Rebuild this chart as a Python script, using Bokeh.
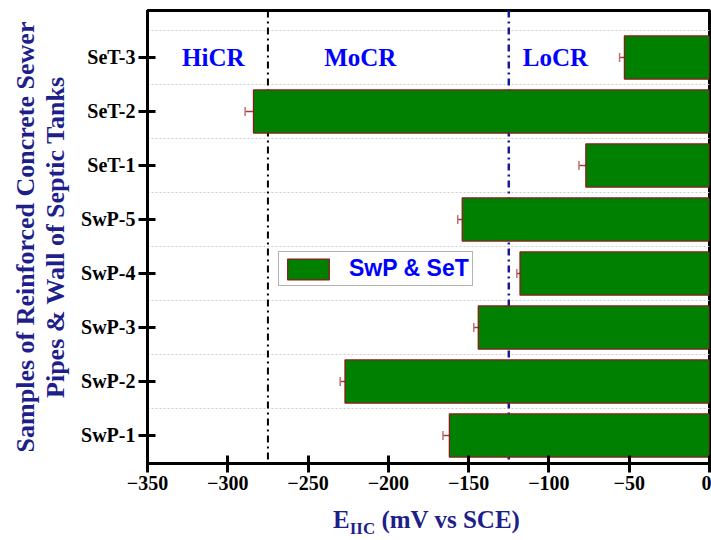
from bokeh.plotting import figure
from bokeh.models import (ColumnDataSource, FixedTicker, Span, Label, Whisker,
                          TeeHead, Legend, LegendItem, Range1d, Div)
from bokeh.layouts import column
from bokeh.embed import file_html
from bokeh.resources import INLINE

# ---------------- data ----------------
samples = ["SwP-1", "SwP-2", "SwP-3", "SwP-4", "SwP-5", "SeT-1", "SeT-2", "SeT-3"]
eiic = [-162, -227, -144, -118, -154, -77, -284, -53]
err = [4, 3, 2.8, 2, 2.8, 4.3, 5.2, 3]
x_ticks = [-350, -300, -250, -200, -150, -100, -50, 0]
x_tick_labels = ["\u2212350", "\u2212300", "\u2212250", "\u2212200", "\u2212150", "\u2212100", "\u221250", "0"]
thresholds = [-275, -125]
regions = ["HiCR", "MoCR", "LoCR"]
region_x = [-309, -217.5, -96]

ypos = list(range(len(samples)))
SERIF = "Liberation Serif"
NAVY = "#1f1f8c"

src = ColumnDataSource(dict(
    y=ypos, v=eiic, zero=[0] * len(eiic),
    lo=[a - b for a, b in zip(eiic, err)],
    hi=[a + b for a, b in zip(eiic, err)],
))

p = figure(width=711, height=500, output_backend="svg", toolbar_location=None,
           x_range=Range1d(-350, 0), y_range=Range1d(-0.5185, 7.87),
           min_border_left=147, min_border_right=2, min_border_top=10,
           min_border_bottom=37)
p.background_fill_color = "white"
p.border_fill_color = "white"
p.outline_line_color = "black"
p.outline_line_width = 3

# grid
p.xgrid.visible = False
p.ygrid.ticker = FixedTicker(ticks=[i + 0.5 for i in ypos])
p.ygrid.grid_line_color = "#cccccc"
p.ygrid.grid_line_dash = "2 2"
p.ygrid.grid_line_width = 1

# threshold lines (behind bars)
p.add_layout(Span(location=thresholds[0], dimension="height", line_color="black",
                  line_width=2, line_dash="7 4 2 4", level="underlay"))
p.add_layout(Span(location=thresholds[1], dimension="height", line_color="#1a1a99",
                  line_width=2.5, line_dash="7 4 2 4", level="underlay"))

bars = p.hbar(y="y", left="v", right="zero", height=0.8, source=src,
              fill_color="#008000", line_color="#8b1a1a", line_width=1.3)

p.add_layout(Whisker(source=src, base="y", lower="lo", upper="hi", dimension="width",
                     line_color="#a83a3a", line_width=1.3,
                     upper_head=TeeHead(size=9, line_color="#a83a3a", line_width=1.5),
                     lower_head=TeeHead(size=9, line_color="#c07070", line_width=1.5)))

# region labels
for name, rx in zip(regions, region_x):
    p.add_layout(Label(x=rx, y=7.0, text=name, text_align="center", text_baseline="middle",
                       text_font=SERIF, text_font_style="bold", text_font_size="25px",
                       text_color="#0000ff"))

# axes
p.xaxis.ticker = FixedTicker(ticks=x_ticks)
p.xaxis.major_label_overrides = {t: l for t, l in zip(x_ticks, x_tick_labels)}
p.yaxis.ticker = FixedTicker(ticks=ypos)
p.yaxis.major_label_overrides = {i: s for i, s in zip(ypos, samples)}
for ax in (p.xaxis[0], p.yaxis[0]):
    ax.axis_line_width = 3
    ax.axis_line_color = "black"
    ax.major_tick_line_width = 3
    ax.major_tick_line_color = "black"
    ax.major_tick_in = 8
    ax.major_tick_out = 9
    ax.minor_tick_line_color = None
    ax.major_label_text_font = SERIF
    ax.major_label_text_font_style = "bold"
    ax.major_label_text_font_size = "20px"
    ax.major_label_text_color = "black"
    ax.major_label_standoff = 3
    ax.axis_label_text_font = SERIF
    ax.axis_label_text_font_style = "bold"
    ax.axis_label_text_color = NAVY

p.yaxis.axis_label = "Samples of Reinforced Concrete Sewer\nPipes & Wall of Septic Tanks"
p.yaxis.axis_label_text_font_size = "26px"
p.yaxis.axis_label_text_line_height = 1.02
p.yaxis.axis_label_standoff = 8

# legend
legend = Legend(items=[LegendItem(label="SwP & SeT", renderers=[bars])],
                location=(131, 177), orientation="vertical")
legend.label_text_font = "Liberation Sans"
legend.label_text_font_style = "bold"
legend.label_text_font_size = "23px"
legend.label_text_color = "#0000ff"
legend.glyph_width = 52
legend.glyph_height = 26
legend.label_height = 26
legend.label_standoff = 15
legend.padding = 3
legend.margin = 0
legend.spacing = 0
legend.border_line_color = "#666666"
legend.border_line_width = 1.3
legend.background_fill_alpha = 1
p.add_layout(legend, "center")

# x axis title with subscript
xtitle = Div(text='E<sub style="font-size:17px;">IIC</sub> (mV vs SCE)',
             width=378, height=32, margin=(7, 0, 0, 333),
             styles={"font-family": SERIF, "font-weight": "bold", "font-size": "25px",
                     "color": NAVY, "line-height": "1", "white-space": "nowrap"})

layout = column(p, xtitle, spacing=0)
open("out.html", "w").write(file_html(layout, INLINE))
